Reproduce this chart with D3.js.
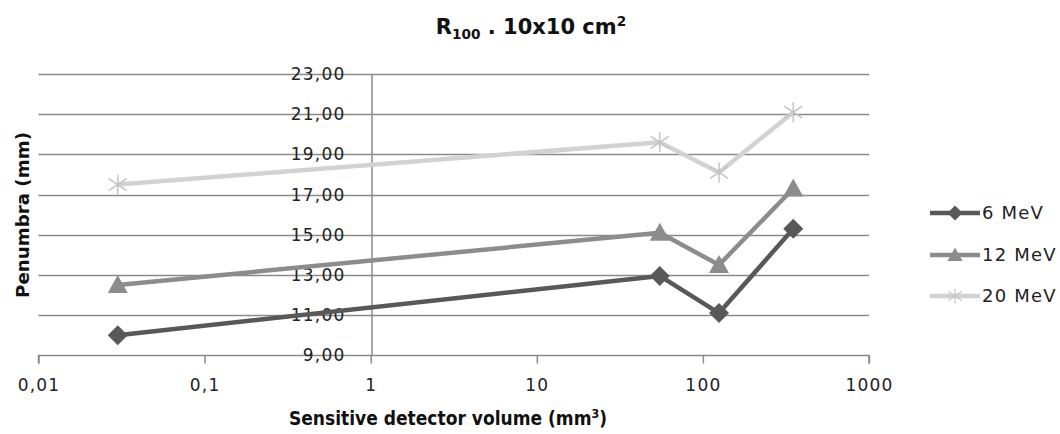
<!DOCTYPE html>
<html>
<head>
<meta charset="utf-8">
<script src="https://cdn.jsdelivr.net/npm/d3@7"></script>
<style>
  html, body { margin: 0; padding: 0; background: #fff; }
  svg { display: block; }
</style>
</head>
<body>
<svg id="chart" width="1060" height="434"></svg>
<script>
// ---- data ----
const volumes = [0.03, 55, 125, 350];          // mm³
const seriesNames = ["6 MeV", "12 MeV", "20 MeV"];
const mev6  = [10.0, 12.95, 11.1, 15.3];
const mev12 = [12.5, 15.1, 13.5, 17.3];
const mev20 = [17.5, 19.6, 18.1, 21.1];
const xTicks = [0.01, 0.1, 1, 10, 100, 1000];
const xTickLabels = ["0,01", "0,1", "1", "10", "100", "1000"];
const yTicks = [9, 11, 13, 15, 17, 19, 21, 23];

const series = [
  { name: seriesNames[0], values: mev6,  color: "#585858", marker: "diamond" },
  { name: seriesNames[1], values: mev12, color: "#8c8c8c", marker: "triangle" },
  { name: seriesNames[2], values: mev20, color: "#d2d2d2", marker: "star" }
];

const svg = d3.select("#chart");
const x = d3.scaleLog().domain([0.01, 1000]).range([38.5, 869]);
const y = d3.scaleLinear().domain([9, 23]).range([355.3, 74]);

const labelFont = "'DejaVu Sans', sans-serif";
const gridColor = "#8a8a8a";

// gridlines
svg.append("g").selectAll("line").data(yTicks.filter(d => d > 9)).join("line")
  .attr("x1", x(0.01)).attr("x2", x(1000))
  .attr("y1", d => Math.round(y(d)) + 0.5).attr("y2", d => Math.round(y(d)) + 0.5)
  .attr("stroke", gridColor).attr("stroke-width", 1.5);

// x axis
const xAxis = d3.axisBottom(x).tickValues(xTicks).tickSize(8)
  .tickFormat((d, i) => xTickLabels[i]).tickPadding(15);
const gx = svg.append("g").attr("transform", `translate(0,${Math.round(y(9)) + 0.5})`).call(xAxis);
gx.select(".domain").attr("stroke", gridColor).attr("stroke-width", 1.5).attr("d", `M${x(0.01)},8V0H${x(1000)}V8`);
gx.selectAll(".tick line").attr("stroke", gridColor).attr("stroke-width", 1.5);
gx.selectAll(".tick text").attr("font-family", labelFont).attr("font-size", 17)
  .attr("letter-spacing", 1.2).attr("fill", "#222");

// y axis (at x = 1)
const yAxis = d3.axisLeft(y).tickValues(yTicks).tickSize(0).tickPadding(26)
  .tickFormat(d => d3.format(".2f")(d).replace(".", ","));
const gy = svg.append("g").attr("transform", `translate(${Math.round(x(1)) + 0.5},0)`).call(yAxis);
gy.select(".domain").attr("stroke", gridColor).attr("stroke-width", 1.5);
gy.selectAll(".tick text").attr("font-family", labelFont).attr("font-size", 17)
  .attr("letter-spacing", 1.2).attr("fill", "#222");

// markers
function markerPath(type) {
  if (type === "diamond") return "M0,-10L10,0L0,10L-10,0Z";
  if (type === "triangle") return "M0,-10L10,8L-10,8Z";
  return "M0,-10V10M-9,-6L9,6M-9,6L9,-6";
}
function drawMarker(g, type, color) {
  if (type === "star") {
    g.append("path").attr("d", markerPath(type)).attr("stroke", "#c4c4c4")
      .attr("stroke-width", 1.5).attr("fill", "none");
  } else {
    g.append("path").attr("d", markerPath(type)).attr("fill", color);
  }
}

const line = d3.line().x((d, i) => x(volumes[i])).y(d => y(d));
series.forEach(s => {
  svg.append("path").datum(s.values).attr("d", line).attr("fill", "none")
    .attr("stroke", s.color).attr("stroke-width", 4.5).attr("stroke-linejoin", "round");
  s.values.forEach((v, i) => {
    const g = svg.append("g").attr("transform", `translate(${x(volumes[i])},${y(v)})`);
    drawMarker(g, s.marker, s.color);
  });
});

// legend
const legendY = [213, 255, 296];
series.forEach((s, i) => {
  const g = svg.append("g").attr("transform", `translate(930,${legendY[i]})`);
  g.append("line").attr("x1", 0).attr("x2", 50).attr("y1", 0).attr("y2", 0)
    .attr("stroke", s.color).attr("stroke-width", 4.5);
  const m = g.append("g").attr("transform", "translate(25,0) scale(0.75)");
  drawMarker(m, s.marker, s.color);
  g.append("text").attr("x", 52).attr("y", 0).attr("dy", "0.36em")
    .attr("font-family", labelFont).attr("font-size", 18).attr("letter-spacing", 1.2)
    .attr("fill", "#222").text(s.name);
});

function fitWidth(sel, target) {
  const w = sel.node().getComputedTextLength();
  const fs = parseFloat(sel.attr("font-size"));
  sel.attr("font-size", fs * target / w);
}

// title
const title = svg.append("text").attr("x", 531).attr("y", 34).attr("text-anchor", "middle")
  .attr("font-family", "'DejaVu Sans', sans-serif").attr("font-weight", "bold")
  .attr("font-size", 21).attr("fill", "#111");
title.append("tspan").text("R");
title.append("tspan").attr("font-size", "0.65em").attr("dy", 5).text("100");
title.append("tspan").attr("dy", -5).text(" . 10x10 cm");
title.append("tspan").attr("font-size", "0.65em").attr("dy", -8).text("2");

// x title
const xt = svg.append("text").attr("x", 448).attr("y", 425).attr("text-anchor", "middle")
  .attr("font-family", "'Liberation Sans Narrow', 'DejaVu Sans Condensed', sans-serif")
  .attr("font-weight", "bold").attr("font-size", 19).attr("fill", "#111");
xt.append("tspan").text("Sensitive detector volume (mm");
xt.append("tspan").attr("font-size", "0.65em").attr("dy", -7).text("3");
xt.append("tspan").attr("dy", 7).text(")");

// y title
const yt = svg.append("text").attr("transform", "translate(29,215) rotate(-90)")
  .attr("text-anchor", "middle").attr("font-family", "'DejaVu Sans', sans-serif")
  .attr("font-weight", "bold").attr("font-size", 17).attr("fill", "#111")
  .text("Penumbra (mm)");
fitWidth(yt, 166);
</script>
</body>
</html>
